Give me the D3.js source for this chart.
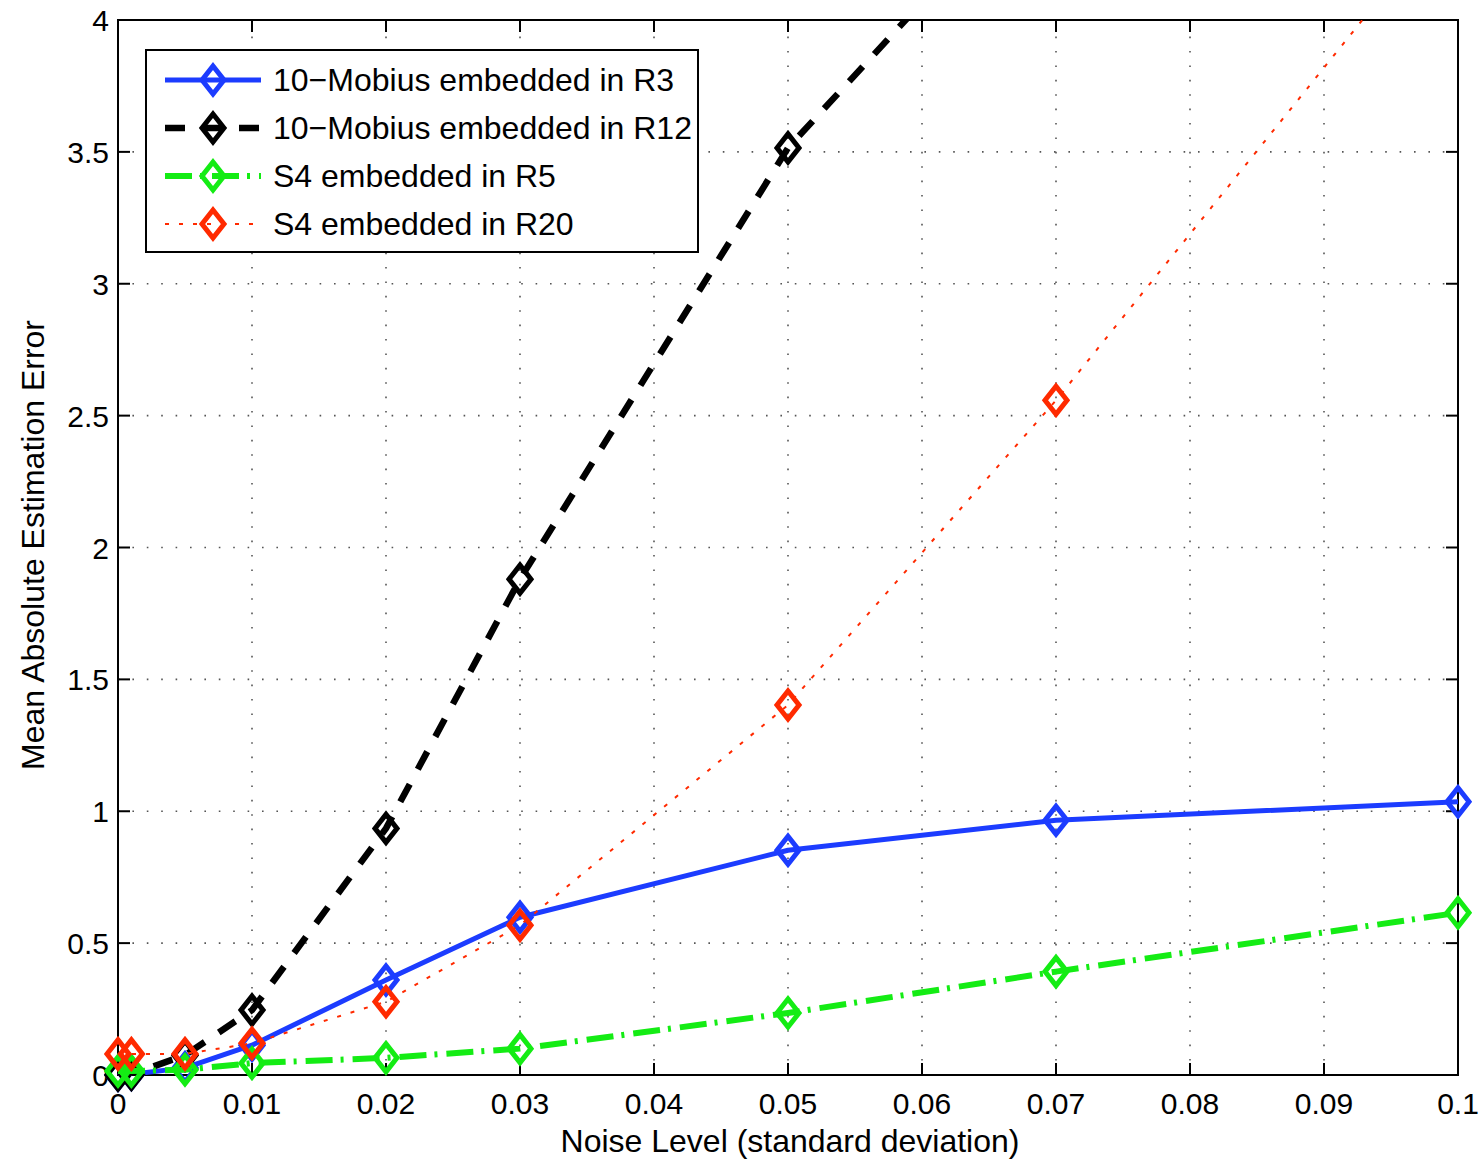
<!DOCTYPE html>
<html>
<head>
<meta charset="utf-8">
<script src="https://cdn.jsdelivr.net/npm/d3@7"></script>
<style>
  html, body { margin: 0; padding: 0; background: #fff; }
  svg { display: block; font-family: "Liberation Sans", Arial, Helvetica, sans-serif; }
</style>
</head>
<body>
<svg id="chart" width="1482" height="1159"></svg>
<script>
// Noise levels (standard deviation)
const noiseLevels = [0, 0.001, 0.005, 0.01, 0.02, 0.03, 0.05, 0.07, 0.1];

// Mean absolute estimation error per configuration
const mobiusR3  = [0.0, 0.003, 0.027, 0.113, 0.36, 0.598, 0.852, 0.966, 1.036];
const mobiusR12 = [0.0, 0.003, 0.075, 0.246, 0.935, 1.88, 3.515, 4.62, 5.9];
const s4R5      = [0.015, 0.015, 0.02, 0.045, 0.065, 0.10, 0.235, 0.392, 0.615];
const s4R20     = [0.08, 0.08, 0.08, 0.12, 0.278, 0.568, 1.403, 2.558, 4.45];

const seriesNames = [
  "10\u2212Mobius embedded in R3",
  "10\u2212Mobius embedded in R12",
  "S4 embedded in R5",
  "S4 embedded in R20"
];

const xTicks = [0, 0.01, 0.02, 0.03, 0.04, 0.05, 0.06, 0.07, 0.08, 0.09, 0.1];
const xTickLabels = ["0", "0.01", "0.02", "0.03", "0.04", "0.05", "0.06", "0.07", "0.08", "0.09", "0.1"];
const yTicks = [0, 0.5, 1, 1.5, 2, 2.5, 3, 3.5, 4];
const yTickLabels = ["0", "0.5", "1", "1.5", "2", "2.5", "3", "3.5", "4"];

const xTitle = "Noise Level (standard deviation)";
const yTitle = "Mean Absolute Estimation Error";

// Line styling for each series
const styles = [
  { color: "#1c3cff", width: 5,   dash: null },
  { color: "#000000", width: 6.5, dash: "20,17" },
  { color: "#14ec14", width: 6,   dash: "27,8,3,9" },
  { color: "#ff2a00", width: 2,   dash: "4,10" }
];

const seriesValues = [mobiusR3, mobiusR12, s4R5, s4R20];
const series = seriesNames.map((name, i) => ({
  name,
  style: styles[i],
  points: noiseLevels.map((x, j) => ({ x, y: seriesValues[i][j] }))
}));

const svg = d3.select("#chart");
const W = 1482, H = 1159;
const plot = { left: 118, right: 1458, top: 20, bottom: 1075 };

const x = d3.scaleLinear().domain([0, 0.1]).range([plot.left, plot.right]);
const y = d3.scaleLinear().domain([0, 4]).range([plot.bottom, plot.top]);

svg.append("rect").attr("width", W).attr("height", H).attr("fill", "#fff");

// Dotted grid
const grid = svg.append("g").attr("stroke", "#555").attr("stroke-width", 1.6)
  .attr("stroke-dasharray", "1.6,12.8");
grid.selectAll("line.gx").data(xTicks.slice(1, -1)).join("line")
  .attr("x1", d => x(d)).attr("x2", d => x(d))
  .attr("y1", plot.bottom).attr("y2", plot.top);
grid.selectAll("line.gy").data(yTicks.slice(1, -1)).join("line")
  .attr("y1", d => y(d)).attr("y2", d => y(d))
  .attr("x1", plot.left).attr("x2", plot.right);

// Tick labels
const tickFont = 30;
const titleFont = 32;
svg.append("g").selectAll("text").data(xTicks).join("text")
  .attr("x", d => x(d)).attr("y", plot.bottom + 39)
  .attr("text-anchor", "middle").attr("font-size", tickFont).attr("fill", "#000")
  .text((d, i) => xTickLabels[i]);
svg.append("g").selectAll("text").data(yTicks).join("text")
  .attr("x", plot.left - 9).attr("y", d => y(d) + 11)
  .attr("text-anchor", "end").attr("font-size", tickFont).attr("fill", "#000")
  .text((d, i) => yTickLabels[i]);

// Axis titles
svg.append("text").attr("x", 790).attr("y", 1152)
  .attr("text-anchor", "middle").attr("font-size", titleFont).text(xTitle);
svg.append("text").attr("transform", "translate(44,545) rotate(-90)")
  .attr("text-anchor", "middle").attr("font-size", titleFont).text(yTitle);

// Axes box with inward ticks on all sides
const axes = svg.append("g").attr("stroke", "#000").attr("stroke-width", 2);
axes.append("rect")
  .attr("x", plot.left).attr("y", plot.top)
  .attr("width", plot.right - plot.left).attr("height", plot.bottom - plot.top)
  .attr("fill", "none");
const tl = 12;
axes.selectAll("line.xb").data(xTicks).join("line")
  .attr("x1", d => x(d)).attr("x2", d => x(d))
  .attr("y1", plot.bottom).attr("y2", plot.bottom - tl);
axes.selectAll("line.xt").data(xTicks).join("line")
  .attr("x1", d => x(d)).attr("x2", d => x(d))
  .attr("y1", plot.top).attr("y2", plot.top + tl);
axes.selectAll("line.yl").data(yTicks).join("line")
  .attr("y1", d => y(d)).attr("y2", d => y(d))
  .attr("x1", plot.left).attr("x2", plot.left + tl);
axes.selectAll("line.yr").data(yTicks).join("line")
  .attr("y1", d => y(d)).attr("y2", d => y(d))
  .attr("x1", plot.right).attr("x2", plot.right - tl);

// Clip region for the data lines
svg.append("defs").append("clipPath").attr("id", "plotClip")
  .append("rect").attr("x", plot.left).attr("y", plot.top)
  .attr("width", plot.right - plot.left).attr("height", plot.bottom - plot.top);

const line = d3.line().x(d => x(d.x)).y(d => y(d.y));

// Diamond marker path, outline only
const mw = 11, mh = 14;
const diamond = `M0,${-mh}L${mw},0L0,${mh}L${-mw},0Z`;

series.forEach(s => {
  const g = svg.append("g");
  g.append("path")
    .attr("clip-path", "url(#plotClip)")
    .attr("d", line(s.points))
    .attr("fill", "none")
    .attr("stroke", s.style.color)
    .attr("stroke-width", s.style.width)
    .attr("stroke-dasharray", s.style.dash)
    .attr("stroke-linejoin", "round");
  g.selectAll("path.m").data(s.points.filter(p => p.y <= 4)).join("path")
    .attr("class", "m")
    .attr("transform", d => `translate(${x(d.x)},${y(d.y)})`)
    .attr("d", diamond)
    .attr("fill", "none")
    .attr("stroke", s.style.color)
    .attr("stroke-width", 5)
    .attr("stroke-linejoin", "miter");
});

// Legend
const leg = svg.append("g");
leg.append("rect").attr("x", 146).attr("y", 50).attr("width", 552).attr("height", 202)
  .attr("fill", "#fff").attr("stroke", "#000").attr("stroke-width", 2);
series.forEach((s, i) => {
  const cy = 80 + i * 48;
  leg.append("line")
    .attr("x1", 165).attr("x2", 261).attr("y1", cy).attr("y2", cy)
    .attr("stroke", s.style.color).attr("stroke-width", s.style.width)
    .attr("stroke-dasharray", s.style.dash);
  leg.append("path")
    .attr("transform", `translate(213,${cy})`)
    .attr("d", diamond).attr("fill", "none")
    .attr("stroke", s.style.color).attr("stroke-width", 5);
  leg.append("text").attr("x", 273).attr("y", cy + 11)
    .attr("font-size", titleFont).attr("fill", "#000").text(s.name);
});
</script>
</body>
</html>
